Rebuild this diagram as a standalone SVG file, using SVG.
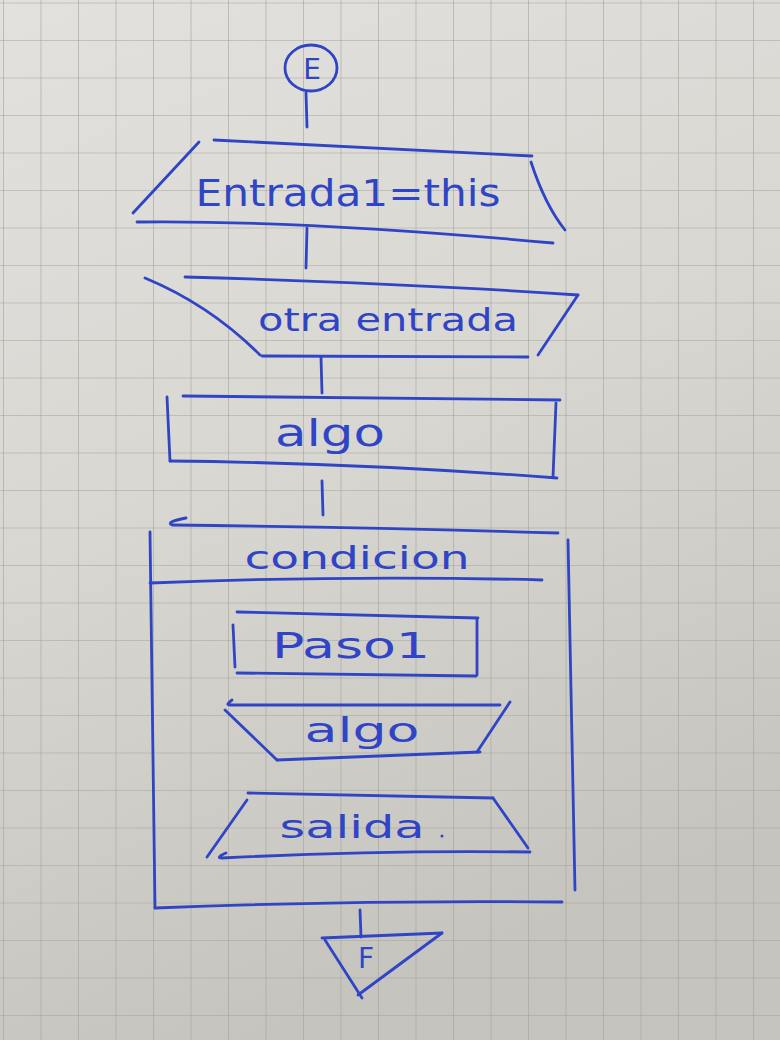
<svg xmlns="http://www.w3.org/2000/svg" width="780" height="1040" viewBox="0 0 780 1040">
<defs>
<linearGradient id="paper" x1="0" y1="0" x2="0.3" y2="1">
<stop offset="0" stop-color="#e3e1dd"/>
<stop offset="0.5" stop-color="#d9d7d2"/>
<stop offset="1" stop-color="#c6c4be"/>
</linearGradient>
<pattern id="grid" x="3" y="2.5" width="37.5" height="37.5" patternUnits="userSpaceOnUse">
<path d="M0 0 H37.5 M0 0 V37.5" fill="none" stroke="#a4a29b" stroke-width="1.2"/>
</pattern>
<style>
.ink{fill:none;stroke:#2f45c6;stroke-width:2.8;stroke-linecap:round;stroke-linejoin:round}
.t{fill:#2f45c6;font-family:"DejaVu Sans","Liberation Sans",sans-serif;text-anchor:middle}
</style>
</defs>
<rect width="780" height="1040" fill="url(#paper)"/>
<rect width="780" height="1040" fill="url(#grid)"/>

<g id="connectors" class="ink">
<path d="M306 93 L307 127"/>
<path d="M307 228 L306 268"/>
<path d="M321 357 L322 393"/>
<path d="M322 481 L323 515"/>
<path d="M360 910 L361 937"/>
</g>

<g id="start">
<ellipse class="ink" cx="311" cy="68" rx="26" ry="23"/>
<text class="t" x="312" y="79" font-size="28">E</text>
</g>

<g id="entrada1">
<path class="ink" d="M214 140 L532 156"/>
<path class="ink" d="M199 142 L133 213"/>
<path class="ink" d="M137 222 Q300 220 553 243"/>
<path class="ink" d="M531 162 Q545 205 565 230"/>
<text class="t" x="348" y="206" font-size="38" textLength="305" lengthAdjust="spacingAndGlyphs">Entrada1=this</text>
</g>

<g id="entrada2">
<path class="ink" d="M185 277 Q400 283 578 295"/>
<path class="ink" d="M145 278 Q210 305 260 355"/>
<path class="ink" d="M262 356 L528 357"/>
<path class="ink" d="M578 295 L538 355"/>
<text class="t" x="388" y="331" font-size="32" textLength="260" lengthAdjust="spacingAndGlyphs">otra entrada</text>
</g>

<g id="algo1">
<path class="ink" d="M183 396 L560 400"/>
<path class="ink" d="M167 397 L170 461"/>
<path class="ink" d="M170 461 Q360 463 557 478"/>
<path class="ink" d="M556 403 L553 477"/>
<text class="t" x="330" y="446" font-size="38" textLength="110" lengthAdjust="spacingAndGlyphs">algo</text>
</g>

<g id="condicion">
<path class="ink" d="M186 518 Q165 522 172 525 Q360 527 558 533"/>
<path class="ink" d="M150 532 L155 908"/>
<path class="ink" d="M155 908 Q360 900 562 902"/>
<path class="ink" d="M568 540 L575 890"/>
<path class="ink" d="M150 583 Q350 575 542 580"/>
<text class="t" x="357" y="569" font-size="32" textLength="225" lengthAdjust="spacingAndGlyphs">condicion</text>
</g>

<g id="paso1">
<path class="ink" d="M237 612 L478 618"/>
<path class="ink" d="M233 625 L235 667"/>
<path class="ink" d="M237 673 L476 676"/>
<path class="ink" d="M477 620 L477 675"/>
<text class="t" x="351" y="658" font-size="36" textLength="158" lengthAdjust="spacingAndGlyphs">Paso1</text>
</g>

<g id="algo2">
<path class="ink" d="M232 700 Q225 705 230 705 L500 705"/>
<path class="ink" d="M225 710 L277 760"/>
<path class="ink" d="M277 760 L480 752"/>
<path class="ink" d="M510 702 L477 752"/>
<text class="t" x="362" y="742" font-size="34" textLength="115" lengthAdjust="spacingAndGlyphs">algo</text>
</g>

<g id="salida">
<path class="ink" d="M248 793 L493 798"/>
<path class="ink" d="M247 800 L207 857"/>
<path class="ink" d="M226 853 Q215 858 222 858 Q380 850 530 852"/>
<path class="ink" d="M493 798 L528 848"/>
<text class="t" x="352" y="838" font-size="32" textLength="145" lengthAdjust="spacingAndGlyphs">salida</text>
<circle cx="442" cy="836" r="1.5" fill="#2f45c6"/>
</g>

<g id="fin">
<path class="ink" d="M322 938 L442 933"/>
<path class="ink" d="M325 940 L362 998"/>
<path class="ink" d="M442 933 L358 995"/>
<text class="t" x="366" y="968" font-size="28">F</text>
</g>
</svg>
